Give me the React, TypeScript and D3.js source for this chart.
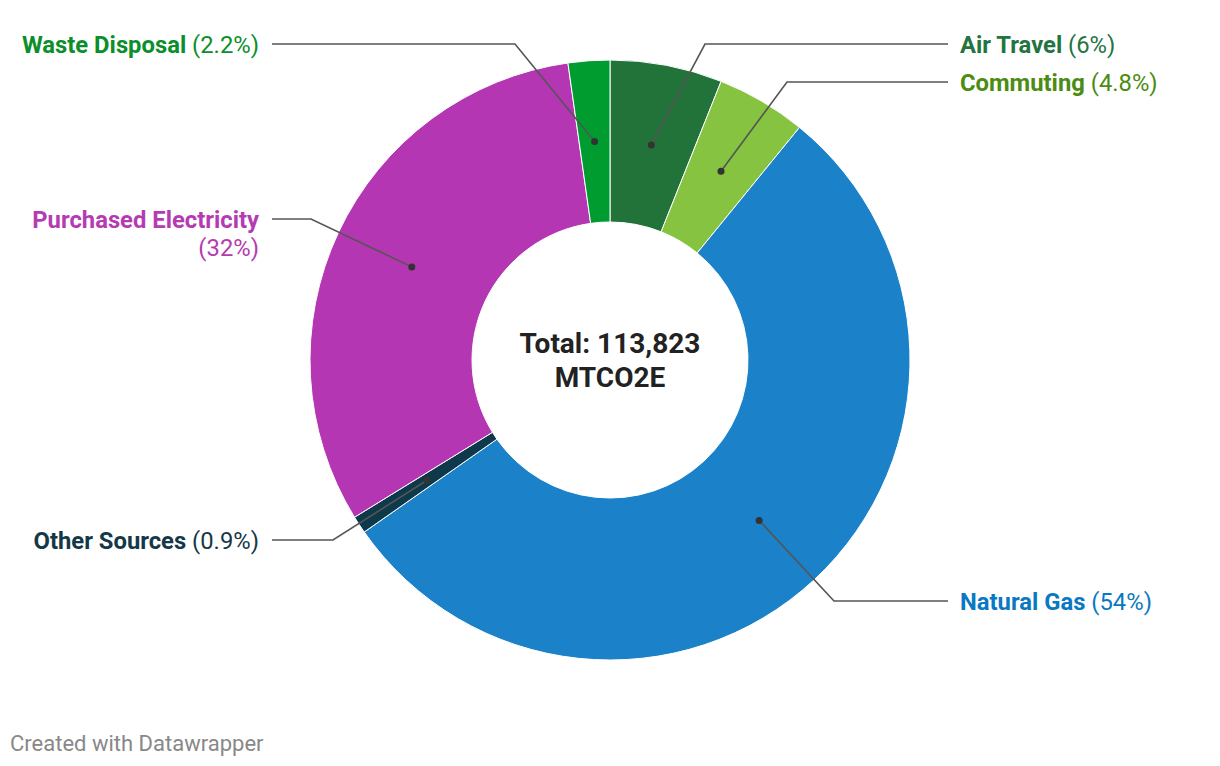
import React from "react";
import * as d3 from "d3";

const categories = ["Air Travel", "Commuting", "Natural Gas", "Other Sources", "Purchased Electricity", "Waste Disposal"];
// shares (%); displayed labels are rounded
const shares = [6.04, 4.84, 54.4, 0.94, 31.54, 2.24];
const shareLabels = ["6%", "4.8%", "54%", "0.9%", "32%", "2.2%"];
const sliceColors = ["#22733a", "#85c341", "#1b82c9", "#0e394a", "#b536b2", "#009c30"];
const labelColors = ["#237440", "#4b8c12", "#0a78c2", "#153848", "#b53bb3", "#0b8f2a"];
const totalText = ["Total: 113,823", "MTCO2E"];

// label layout: side, elbow point, number of text lines
const labelLayout = [
  { side: 1, elbow: [705, 44], lines: 1 },
  { side: 1, elbow: [787, 82], lines: 1 },
  { side: 1, elbow: [834, 601], lines: 1 },
  { side: -1, elbow: [333, 540], lines: 1 },
  { side: -1, elbow: [311, 219], lines: 2 },
  { side: -1, elbow: [515, 44], lines: 1 },
];

export default function App() {
  const W = 1220, H = 766;
  const cx = 610, cy = 360, R = 300, r = 138;
  const pie = d3.pie<number>().sort(null).value((d) => d);
  const arcs = pie(shares);
  const arc = d3.arc<d3.PieArcDatum<number>>().innerRadius(r).outerRadius(R);
  const mid = d3.arc<d3.PieArcDatum<number>>().innerRadius(219).outerRadius(219);
  const font = "Roboto, 'Noto Sans', sans-serif";
  const rightX = 948, leftX = 272;
  const fs = 23.8;

  return (
    <svg width={W} height={H} style={{ position: "absolute", left: 0, top: 0, background: "#fff" }} fontFamily={font}>
      <g transform={`translate(${cx},${cy})`}>
        {arcs.map((a, i) => (
          <path key={i} d={arc(a) || ""} fill={sliceColors[i]} stroke="#fff" strokeWidth={1} />
        ))}
      </g>
      {arcs.map((a, i) => {
        const [mx, my] = mid.centroid(a);
        const px = cx + mx, py = cy + my;
        const L = labelLayout[i];
        const [ex, ey] = L.elbow;
        const endX = L.side > 0 ? rightX : leftX;
        const textX = L.side > 0 ? endX + 12 : endX - 13;
        const anchor = L.side > 0 ? "start" : "end";
        return (
          <g key={i}>
            <polyline points={`${px},${py} ${ex},${ey} ${endX},${ey}`} fill="none" stroke="#555" strokeWidth={1.6} />
            <circle cx={px} cy={py} r={3.5} fill="#333" />
            {L.lines === 1 ? (
              <text x={textX} y={ey + 8.5} textAnchor={anchor} fontSize={fs} fill={labelColors[i]}>
                <tspan fontWeight={700}>{categories[i]}</tspan>
                <tspan> ({shareLabels[i]})</tspan>
              </text>
            ) : (
              <text x={textX} y={ey + 8.5} textAnchor={anchor} fontSize={fs} fill={labelColors[i]}>
                <tspan fontWeight={700}>{categories[i]}</tspan>
                <tspan x={textX} dy={28}>({shareLabels[i]})</tspan>
              </text>
            )}
          </g>
        );
      })}
      <text x={cx} y={cy - 7} textAnchor="middle" fontSize={28} fontWeight={700} fill="#222">{totalText[0]}</text>
      <text x={cx} y={cy + 27} textAnchor="middle" fontSize={28} fontWeight={700} fill="#222">{totalText[1]}</text>
      <text x={10} y={751} fontSize={22} fill="#888">Created with Datawrapper</text>
    </svg>
  );
}
